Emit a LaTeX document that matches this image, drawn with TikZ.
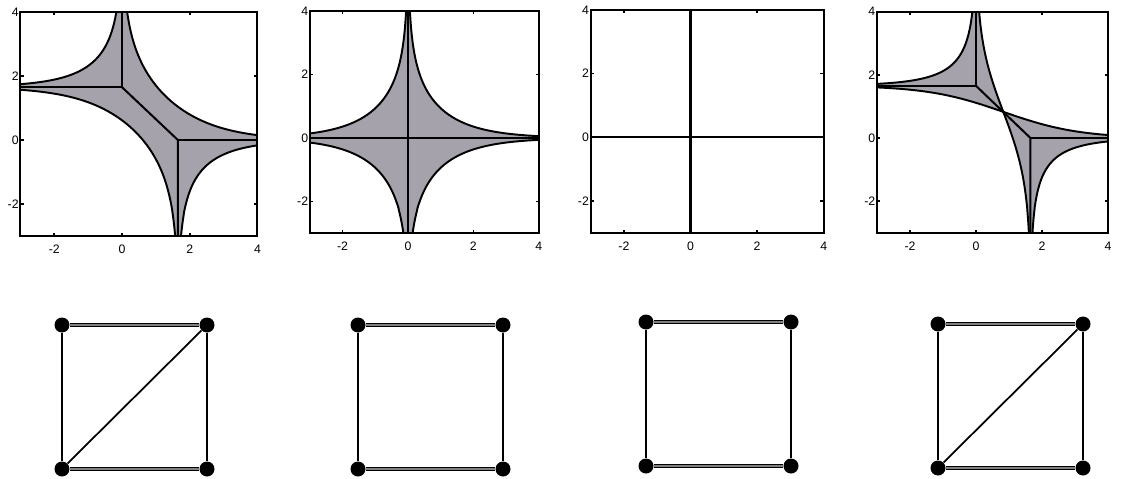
\documentclass[tikz,border=0pt]{standalone}
\usepackage{fontspec}
\setmainfont{Liberation Sans}
\usetikzlibrary{positioning}
\definecolor{amoebagray}{RGB}{165,162,172}

% frame, ticks and numbers of one amoeba plot (#1 = plot id)
\newcommand{\amoebaframe}[1]{%
  \draw[frameline] (-3,-3) rectangle (4,4);
  \foreach \t in {-2,0,2}{
    \draw[tickmark] (\t,-3) -- ++(0,0.1);
    \draw[tickmark] (\t,4) -- ++(0,-0.1);
    \draw[tickmark] (-3,\t) -- ++(0.1,0);
    \draw[tickmark] (4,\t) -- ++(-0.1,0);
  }
  \foreach \t in {-2,0,2,4}{
    \node[xnum] (p#1x\t) at (\t,-3) {\t};
    \node[ynum] (p#1y\t) at (-3,\t) {\t};
  }
}

\begin{document}
\begin{tikzpicture}[
    x=0.02cm, y=0.02cm,
    declare function={
      upm(\t,\a)=1.1*ln((\a+exp(\t/1.1))/abs(1-exp(\t/1.1)));
      lom(\t,\a)=1.1*ln(abs(\a-exp(\t/1.1))/(1+exp(\t/1.1)));
      gone(\t)=1.1*ln((4.5+exp(\t/1.1))/(1+exp(\t/1.1)));
      gtwo(\t)=1.1*ln(abs(4.5-exp(\t/1.1))/abs(1-exp(\t/1.1)));
    },
    frameline/.style={line width=1.2pt},
    tickmark/.style={line width=0.9pt},
    hole/.style={fill=white, draw=black, line width=1.1pt, samples=200},
    spine/.style={line width=1.15pt},
    xnum/.style={anchor=north, inner sep=0pt, yshift=-5pt, font=\fontsize{7}{8}\selectfont},
    ynum/.style={anchor=east, inner sep=0.8pt, font=\fontsize{7}{8}\selectfont},
    vdot/.style={circle, fill=black, inner sep=0pt, minimum size=0.3cm},
    hedge/.style={draw=black, line width=0.7pt, double=black!50, double distance=1.1pt},
    vedge/.style={line width=1pt}
]
\useasboundingbox (0,0) rectangle (1123,478);

% plot 1
\begin{scope}[shift={(122,338)}, xscale=33.86, yscale=32]
  \begin{scope}
    \clip (-3,-3) rectangle (4,4);
    \fill[amoebagray] (-3,-3) rectangle (4,4);
    \filldraw[hole] plot[domain=-3.2:-0.02] (\x,{upm(\x,4.5)}) -- (-0.02,8) -- (-3.2,8) -- cycle;
    \filldraw[hole] plot[domain=0.02:4.2] (\x,{upm(\x,4.5)}) -- (4.2,8) -- (0.02,8) -- cycle;
    \filldraw[hole] plot[domain=-3.2:1.62] (\x,{lom(\x,4.5)}) -- (1.62,-8) -- (-3.2,-8) -- cycle;
    \filldraw[hole] plot[domain=1.68:4.2] (\x,{lom(\x,4.5)}) -- (4.2,-8) -- (1.68,-8) -- cycle;
    \draw[spine] (0,4) -- (0,1.65) -- (-3,1.65);
    \draw[spine] (0,1.65) -- (1.65,0) -- (1.65,-3);
    \draw[spine] (1.65,0) -- (4,0);
  \end{scope}
  \amoebaframe{1}
\end{scope}

% plot 2
\begin{scope}[shift={(408,340)}, xscale=32.7, yscale=31.7]
  \begin{scope}
    \clip (-3,-3) rectangle (4,4);
    \fill[amoebagray] (-3,-3) rectangle (4,4);
    \filldraw[hole] plot[domain=-3.2:-0.02] (\x,{upm(\x,1)}) -- (-0.02,8) -- (-3.2,8) -- cycle;
    \filldraw[hole] plot[domain=0.02:4.2] (\x,{upm(\x,1)}) -- (4.2,8) -- (0.02,8) -- cycle;
    \filldraw[hole] plot[domain=-3.2:-0.02] (\x,{lom(\x,1)}) -- (-0.02,-8) -- (-3.2,-8) -- cycle;
    \filldraw[hole] plot[domain=0.02:4.2] (\x,{lom(\x,1)}) -- (4.2,-8) -- (0.02,-8) -- cycle;
    \draw[spine] (-3,0) -- (4,0);
    \draw[spine] (0,-3) -- (0,4);
  \end{scope}
  \amoebaframe{2}
\end{scope}

% plot 3
\begin{scope}[shift={(690.5,340.6)}, xscale=33.3, yscale=31.9]
  \draw[spine] (-3,0) -- (4,0);
  \draw[spine] (0,-3) -- (0,4);
  \amoebaframe{3}
\end{scope}

% plot 4
\begin{scope}[shift={(976,340)}, xscale=33, yscale=31.6]
  \begin{scope}
    \clip (-3,-3) rectangle (4,4);
    \fill[amoebagray] (-3,-3) rectangle (4,4);
    \filldraw[hole] plot[domain=-3.2:-0.02] (\x,{gtwo(\x)}) -- (-0.02,8) -- (-3.2,8) -- cycle;
    \filldraw[hole] plot[domain=0.02:0.827] (\x,{gtwo(\x)}) -- plot[domain=0.827:4.2] (\x,{gone(\x)}) -- (4.2,8) -- (0.02,8) -- cycle;
    \filldraw[hole] plot[domain=-3.2:0.827] (\x,{gone(\x)}) -- plot[domain=0.827:1.62] (\x,{gtwo(\x)}) -- (1.62,-8) -- (-3.2,-8) -- cycle;
    \filldraw[hole] plot[domain=1.68:4.2] (\x,{gtwo(\x)}) -- (4.2,-8) -- (1.68,-8) -- cycle;
    \draw[spine] (0,4) -- (0,1.65) -- (-3,1.65);
    \draw[spine] (0,1.65) -- (1.65,0) -- (1.65,-3);
    \draw[spine] (1.65,0) -- (4,0);
  \end{scope}
  \amoebaframe{4}
\end{scope}

% subdivisions of the square
\foreach \g/\gx/\gy in {1/62/153, 2/358/153, 3/646/156, 4/938/154}{
  \node[vdot] (tl\g) at (\gx,\gy) {};
  \node[vdot] (tr\g) at (\gx+145,\gy) {};
  \node[vdot] (bl\g) at (\gx,\gy-144) {};
  \node[vdot] (br\g) at (\gx+145,\gy-144) {};
  \draw[hedge] (tl\g) -- (tr\g);
  \draw[hedge] (bl\g) -- (br\g);
  \draw[vedge] (tl\g) -- (bl\g);
  \draw[vedge] (tr\g) -- (br\g);
}
\draw[vedge] (bl1) -- (tr1);
\draw[vedge] (bl4) -- (tr4);
\end{tikzpicture}
\end{document}
